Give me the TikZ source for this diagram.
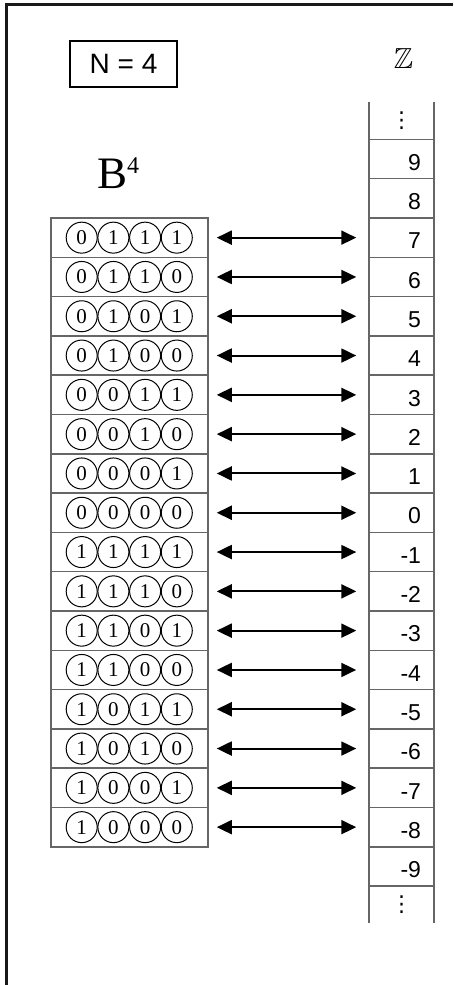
\documentclass[tikz,border=0pt]{standalone}
\usepackage{amsmath,amssymb}
\usepackage{fontspec}
\newfontfamily\arial{Liberation Sans}
\newfontfamily\bitfont{Liberation Serif}
\newfontfamily\dejavu{DejaVu Sans}
\usepackage{tikz}
\usetikzlibrary{arrows.meta,positioning}

\begin{document}
\begin{tikzpicture}[x=1pt,y=-1pt,
  grid/.style={draw=black!60,line width=1.5pt},
  brow/.style={grid,minimum width=157pt,minimum height=39.3pt,inner sep=0pt},
  zrow/.style={grid,minimum width=65pt,minimum height=39.3pt,inner xsep=13pt,inner ysep=0pt,text width=39pt,text height=22.4pt,text depth=0pt,align=right,font=\arial\fontsize{23}{23}\selectfont},
  bitc/.style={circle,draw,line width=1pt,minimum size=31pt,inner sep=0pt,font=\bitfont\fontsize{21}{21}\selectfont},
  dots/.style={inner sep=0pt,font=\dejavu\fontsize{22}{22}\selectfont},
  pair/.style={{Triangle[length=15pt,width=14pt]}-{Triangle[length=15pt,width=14pt]},line width=2pt,shorten <=8pt,shorten >=12pt}]
\useasboundingbox (0,0) rectangle (453,985);
% frame
\draw[line width=2.5pt,black!90] (453,4.5) -- (6.5,4.5) -- (6.5,985);
\node[draw,line width=1.5pt,minimum width=107pt,minimum height=46pt,font=\arial\fontsize{28}{28}\selectfont] (n) at (123.5,64) {N = 4};
\node[anchor=base,inner sep=0pt] (zz) at (403.5,68) {\scalebox{1.45}{\fontsize{20}{20}\selectfont$\mathbb{Z}$}};
\node[anchor=base west,inner sep=0pt,font=\bitfont\fontsize{45}{45}\selectfont] (bb) at (97,188) {B\raisebox{15pt}{\fontsize{24}{24}\selectfont 4}};
% integer column
\draw[grid] (369,102) -- (369,923) (434,102) -- (434,923);
\foreach \k in {-1,...,17}{
  \pgfmathtruncatemacro\val{8-\k}
  \node[zrow] (z\k) at (401.5,{198.35+39.3*\k}) {\val};
}
\node[dots] (dtop) at (401.5,121) {⋮};
\node[dots] (dbot) at (401.5,905) {⋮};
% bit vectors
\foreach \k in {1,...,16}{
  \pgfmathtruncatemacro\code{mod(24-\k,16)}
  \node[brow] (b\k) at (129.5,{198.35+39.3*\k}) {};
  \foreach \j in {1,...,4}{
    \pgfmathtruncatemacro\bit{mod(floor(\code/2^(4-\j)),2)}
    \node[bitc] (c\k\j) at ({81.7+31.7*(\j-1)},{198.35+39.3*\k}) {\bit};
  }
  \draw[pair] (b\k) -- (z\k);
}
\end{tikzpicture}
\end{document}
